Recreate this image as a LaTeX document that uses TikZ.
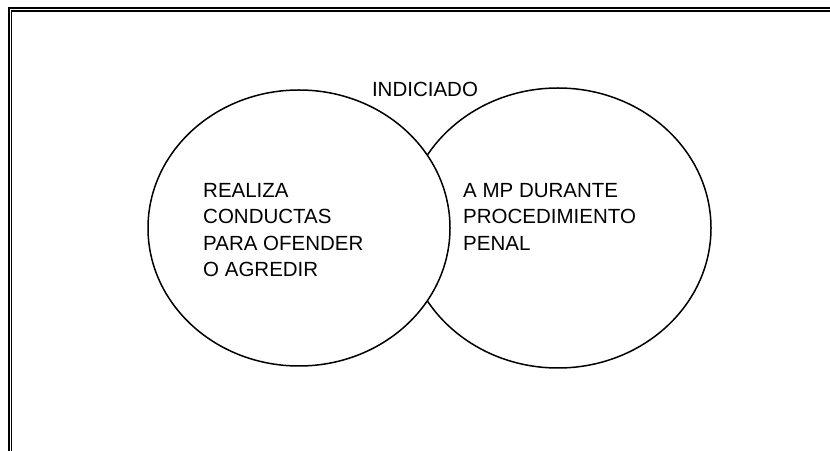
\documentclass[tikz,border=0pt]{standalone}
\usepackage{fontspec}
\setmainfont{Liberation Sans}
\usetikzlibrary{shapes.geometric, positioning}

\begin{document}
\begin{tikzpicture}[
        x=1pt,
        y=1pt,
        frameline/.style={line width=1.6pt, draw=black},
        circ/.style={ellipse, draw, line width=1.5pt, fill=white, inner sep=0pt},
        txt/.style={font=\fontsize{20.5}{26.5}\selectfont, align=left, inner sep=0pt}
    ]
        \useasboundingbox (0,0) rectangle (830,450);

        % double frame, open to the right and bottom
        \draw[frameline] (9,-5) -- (9,442) -- (840,442);
        \draw[frameline, line width=1.3pt] (11.7,-5) -- (11.7,439) -- (840,439);

        \node[circ, minimum width=306, minimum height=280] (mp) at (558,222) {};
        \node[circ, minimum width=302, minimum height=276] (conducta) at (299,222) {};

        \node[txt, anchor=base] (indiciado) at (425,353) {INDICIADO};
        \node[txt, anchor=north west] (conductatxt) at (203,267)
            {REALIZA\\CONDUCTAS\\PARA OFENDER\\O AGREDIR};
        \node[txt, anchor=north west] (mptxt) at (463,267)
            {A MP DURANTE\\PROCEDIMIENTO\\PENAL};
    \end{tikzpicture}
\end{document}
